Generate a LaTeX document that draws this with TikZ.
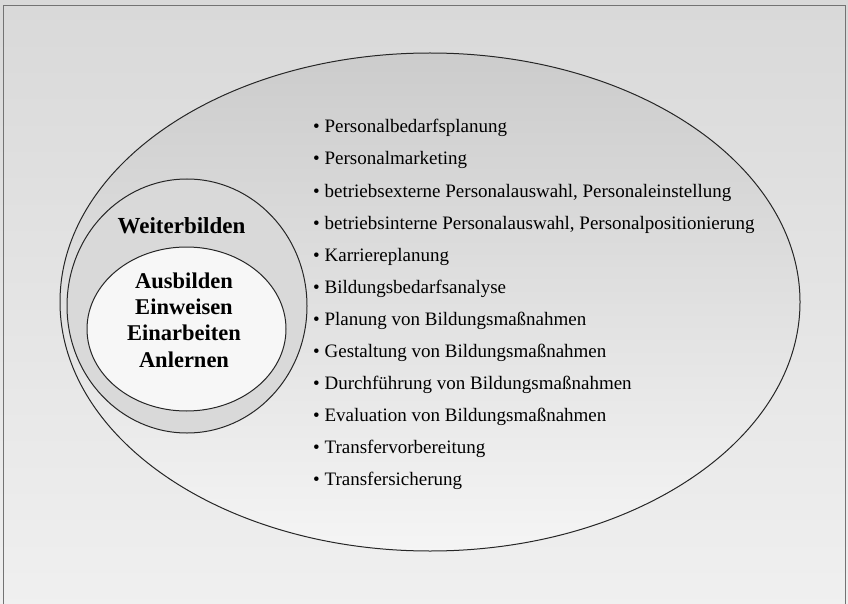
\documentclass[tikz,border=0pt]{standalone}
\usepackage{fontspec}
\setmainfont{Liberation Serif}
\usetikzlibrary{shapes.geometric}
\definecolor{frameline}{gray}{0.45}
\definecolor{ringfill}{gray}{0.85}
\definecolor{innerfill}{gray}{0.97}
\tikzset{
  oval/.style={ellipse, draw=black!85, line width=1pt, inner sep=0pt, outer sep=0pt},
  item/.style={anchor=base west, inner sep=0pt, font=\fontsize{19}{22}\selectfont},
  bigtext/.style={inner sep=0pt, font=\fontsize{22.5}{26.3}\selectfont\bfseries, align=center}
}
\begin{document}
\begin{tikzpicture}[x=1pt,y=-1pt]
\useasboundingbox (0,0) rectangle (848,604);
\shade[top color=black!15, bottom color=black!6] (0,0) rectangle (848,604);
\draw[frameline, line width=1pt] (3,6) rectangle (845,610);
\node[oval, minimum width=740pt, minimum height=498pt, top color=black!20, bottom color=black!4] (big) at (430,302) {};
\node[oval, minimum width=240pt, minimum height=254pt, fill=ringfill] (mid) at (187,306) {};
\node[oval, minimum width=199pt, minimum height=164pt, fill=innerfill] (inner) at (186.5,329) {};
\node[inner sep=0pt, anchor=base, font=\fontsize{23}{26}\selectfont\bfseries] (weiter) at (181.5,233) {Weiterbilden};
\node[bigtext, anchor=base] (aus) at (184,367) {Ausbilden\\Einweisen\\Einarbeiten\\Anlernen};
\foreach \t [count=\i] in {Personalbedarfsplanung, Personalmarketing, {betriebsexterne Personalauswahl, Personaleinstellung}, {betriebsinterne Personalauswahl, Personalpositionierung}, Karriereplanung, Bildungsbedarfsanalyse, Planung von Bildungsmaßnahmen, Gestaltung von Bildungsmaßnahmen, Durchführung von Bildungsmaßnahmen, Evaluation von Bildungsmaßnahmen, Transfervorbereitung, Transfersicherung}
  \node[item] (item\i) at (313,{133+32*(\i-1)}) {\textbullet\ \t};
\end{tikzpicture}
\end{document}
